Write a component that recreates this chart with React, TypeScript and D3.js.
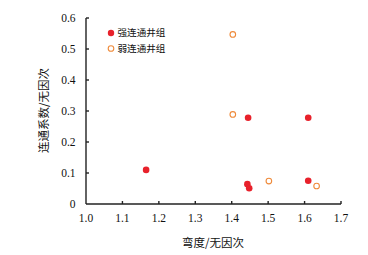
import React from "react";
import * as d3 from "d3";

const strongX = [1.165, 1.443, 1.448, 1.61, 1.445, 1.61];
const strongY = [0.11, 0.064, 0.051, 0.075, 0.278, 0.278];
const weakX = [1.403, 1.403, 1.502, 1.633];
const weakY = [0.547, 0.289, 0.074, 0.058];
const xTicks = [1.0, 1.1, 1.2, 1.3, 1.4, 1.5, 1.6, 1.7];
const yTicks = [0, 0.1, 0.2, 0.3, 0.4, 0.5, 0.6];
const legendLabels = ["强连通井组", "弱连通井组"];
const xTitle = "弯度/无因次";
const yTitle = "连通系数/无因次";

const W = 368, H = 255;
const RED = "#e8212b";
const ORANGE = "#ef8a3a";
const AX = "#222";

export default function App() {
  const x = d3.scaleLinear().domain([1.0, 1.7]).range([86, 341]);
  const y = d3.scaleLinear().domain([0, 0.6]).range([204, 18]);
  const serif = "'Liberation Serif', 'Times New Roman', serif";
  const cjk = "'Noto Sans CJK SC', sans-serif";
  return (
    <svg width={W} height={H} style={{ position: "absolute", left: 0, top: 0, background: "#fff" }}>
      <line x1={x(1.0)} x2={x(1.7)} y1={y(0)} y2={y(0)} stroke={AX} strokeWidth={1.4} />
      <line x1={x(1.0)} x2={x(1.0)} y1={y(0)} y2={y(0.6)} stroke={AX} strokeWidth={1.4} />
      {xTicks.map((t, i) => (
        <g key={"xt" + i}>
          {i > 0 && <line x1={x(t)} x2={x(t)} y1={y(0)} y2={y(0) - 3} stroke={AX} strokeWidth={1.4} />}
          <text x={x(t)} y={222} textAnchor="middle" fontFamily={serif} fontSize={11.5} fill="#111">
            {t.toFixed(1)}
          </text>
        </g>
      ))}
      {yTicks.map((t, i) => (
        <g key={"yt" + i}>
          {i > 0 && <line x1={x(1.0)} x2={x(1.0) + 3} y1={y(t)} y2={y(t)} stroke={AX} strokeWidth={1.4} />}
          <text x={75.5} y={y(t)} dy="0.35em" textAnchor="end" fontFamily={serif} fontSize={11.5} fill="#111">
            {t === 0 ? "0" : t.toFixed(1)}
          </text>
        </g>
      ))}
      {strongX.map((v, i) => (
        <circle key={"s" + i} cx={x(v)} cy={y(strongY[i])} r={3.3} fill={RED} />
      ))}
      {weakX.map((v, i) => (
        <circle key={"w" + i} cx={x(v)} cy={y(weakY[i])} r={2.8} fill="none" stroke={ORANGE} strokeWidth={1.1} />
      ))}
      <circle cx={111} cy={33} r={3.2} fill={RED} />
      <text x={117.5} y={33} dy="0.36em" fontFamily={cjk} fontSize={9.6} fill="#111">{legendLabels[0]}</text>
      <circle cx={111} cy={48.5} r={2.8} fill="none" stroke={ORANGE} strokeWidth={1.1} />
      <text x={117.5} y={48.5} dy="0.36em" fontFamily={cjk} fontSize={9.6} fill="#111">{legendLabels[1]}</text>
      <text x={213} y={243} dy="0.35em" textAnchor="middle" fontFamily={cjk} fontSize={11.5} fill="#111">{xTitle}</text>
      <text transform="translate(43.5,110.5) rotate(-90)" textAnchor="middle" dy="0.35em" fontFamily={cjk} fontSize={11.5} fill="#111">{yTitle}</text>
    </svg>
  );
}
